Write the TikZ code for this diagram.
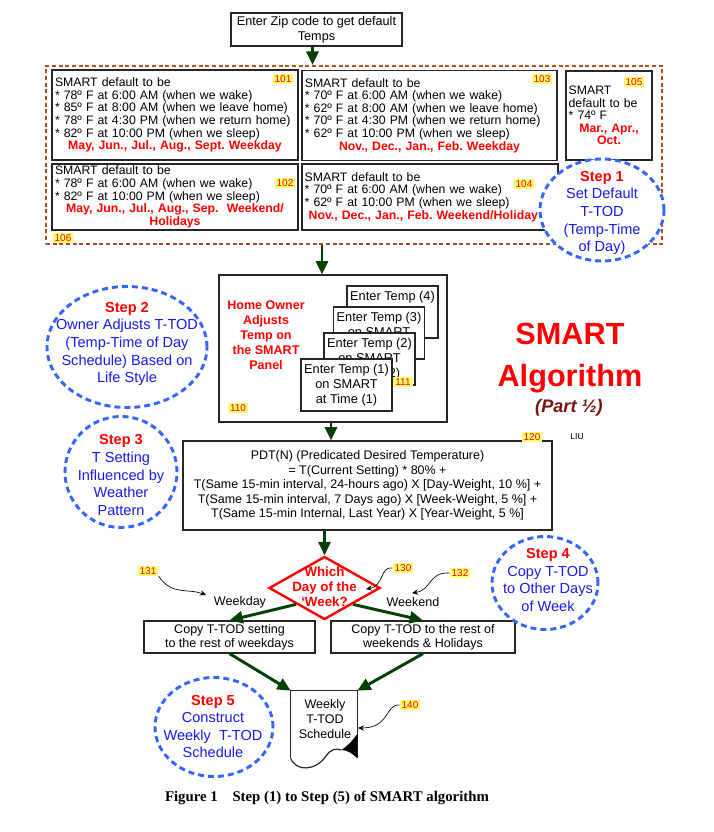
\documentclass[tikz,border=0pt]{standalone}
\usepackage{fontspec}
\setmainfont{Liberation Sans}
\newfontfamily\capfont{Liberation Serif}
\usetikzlibrary{shapes.geometric,arrows.meta}
\definecolor{flowgreen}{RGB}{0,64,0}
\definecolor{ringblue}{RGB}{51,102,255}
\definecolor{stepblue}{RGB}{25,25,235}
\definecolor{grpbrown}{RGB}{176,80,30}
\definecolor{tagyellow}{RGB}{255,255,110}
\definecolor{partred}{RGB}{120,20,20}
\newcommand\txtsz[2]{\fontsize{#1}{#2}\selectfont}
\newcommand\redline[1]{\makebox[\linewidth]{\bfseries\color{red}#1}}
\frenchspacing

\begin{document}
\begin{tikzpicture}[x=0.75pt,y=-0.75pt,
  box/.style={draw=black!85, line width=0.9pt, fill=white, inner xsep=2pt, inner ysep=0pt},
  tag/.style={fill=tagyellow, text=red, font=\fontsize{7.5}{7.5}\selectfont, inner xsep=1.5pt, inner ysep=1pt},
  ring/.style={ellipse, draw=ringblue, line width=2.2pt, dash pattern=on 4.5pt off 3pt, fill=white, inner sep=0pt},
  steptext/.style={align=center, text=stepblue, font=\fontsize{10.9}{13.2}\selectfont},
  flow/.style={draw=flowgreen, line width=2.2pt, -{Triangle[length=10pt,width=9pt]}},
  callout/.style={draw=black, line width=0.5pt, -{Stealth[length=4.5pt,width=4pt]}}]
\useasboundingbox (0,0) rectangle (714,832);

\node[box, align=center, minimum width=128.25pt, minimum height=24.75pt, font=\txtsz{9.5}{11.25}] (zip) at (316.5,29.5) {Enter Zip code to get default\\Temps};

% default T-TOD group
\node[draw=grpbrown, line width=1.8pt, dash pattern=on 3pt off 2pt, minimum width=462pt, minimum height=133.5pt, inner sep=0pt] (grp) at (354,155) {};
\node[box, align=left, minimum width=184.5pt, minimum height=67.5pt, text width=180pt, font=\txtsz{9.2}{9.45}] (b101) at (175,115) {SMART default to be\\{}* 78º F at 6:00 AM (when we wake)\\{}* 85º F at 8:00 AM (when we leave home)\\{}* 78º F at 4:30 PM (when we return home)\\{}* 82º F at 10:00 PM (when we sleep)\\\redline{May, Jun., Jul., Aug., Sept. Weekday}};
\node[box, align=left, minimum width=191.25pt, minimum height=67.5pt, text width=187pt, font=\txtsz{9.2}{9.45}] (b103) at (429.5,115.5) {SMART default to be\\{}* 70º F at 6:00 AM (when we wake)\\{}* 62º F at 8:00 AM (when we leave home)\\{}* 70º F at 4:30 PM (when we return home)\\{}* 62º F at 10:00 PM (when we sleep)\\\redline{Nov., Dec., Jan., Feb. Weekday}};
\node[box, align=left, minimum width=64.5pt, minimum height=66.75pt, text width=60.5pt, font=\txtsz{9.2}{9.45}] (b105) at (609,115.5) {SMART\\default to be\\{}* 74º F\\\redline{Mar., Apr.,}\\\redline{Oct.}};
\node[box, align=left, minimum width=184.5pt, minimum height=49.5pt, text width=180pt, font=\txtsz{9.2}{9.45}] (b102) at (175,197) {SMART default to be\\{}* 78º F at 6:00 AM (when we wake)\\{}* 82º F at 10:00 PM (when we sleep)\\\redline{May, Jun., Jul., Aug., Sep.\ \ Weekend/}\\\redline{Holidays}};
\node[box, align=left, minimum width=192pt, minimum height=49.5pt, text width=188pt, font=\txtsz{9.2}{9.45}] (b104) at (430,197) {SMART default to be\\{}* 70º F at 6:00 AM (when we wake)\\{}* 62º F at 10:00 PM (when we sleep)\\\makebox[\linewidth][l]{\hspace{3pt}\bfseries\color{red}Nov., Dec., Jan., Feb. Weekend/Holiday}};
\node[tag] (t101) at (283,79) {101};
\node[tag] (t102) at (285,183) {102};
\node[tag] (t103) at (542,79) {103};
\node[tag] (t104) at (524,184) {104};
\node[tag] (t105) at (634,82) {105};
\node[tag] (t106) at (63,238) {106};
\node[ring, minimum width=93pt, minimum height=76.5pt] (s1) at (602,210) {};
\node[steptext] (s1t) at (602,213) {{\color{red}\bfseries Step 1}\\Set Default\\T-TOD\\(Temp-Time\\of Day)};

% owner adjusts panel
\node[box, minimum width=171pt, minimum height=110.25pt] (b110) at (333,348.5) {};
\node[text=red, align=center, font=\bfseries\fontsize{9.4}{11.25}\selectfont] (own) at (266,335) {Home Owner\\Adjusts\\Temp on\\the SMART\\Panel};
\node[tag] (t110) at (238,408) {110};
\node[box, align=center, minimum width=68.25pt, minimum height=39pt, font=\txtsz{9.6}{11.25}] (e4) at (392.5,312) {Enter Temp (4)\\on SMART\\at Time (4)};
\node[box, align=center, minimum width=68.25pt, minimum height=39pt, font=\txtsz{9.6}{11.25}] (e3) at (379,333) {Enter Temp (3)\\on SMART\\at Time (3)};
\node[box, align=center, minimum width=68.25pt, minimum height=39pt, font=\txtsz{9.6}{11.25}] (e2) at (369.5,359) {Enter Temp (2)\\on SMART\\at Time (2)};
\node[tag] (t111) at (403,382) {111};
\node[box, align=center, minimum width=68.25pt, minimum height=39pt, font=\txtsz{9.6}{11.25}] (e1) at (346.5,385) {Enter Temp (1)\\on SMART\\at Time (1)};

\node[ring, minimum width=120pt, minimum height=90.75pt] (s2) at (127,347) {};
\node[steptext] (s2t) at (127,344) {{\color{red}\bfseries Step 2}\\Owner Adjusts T-TOD\\(Temp-Time of Day\\Schedule) Based on\\Life Style};

\node[text=red, align=center, font=\bfseries\fontsize{23}{32}\selectfont] (ttl) at (570,358) {SMART\\Algorithm};
\node[text=partred, font=\bfseries\itshape\fontsize{13.6}{15}\selectfont] (part) at (569,408) {(Part ½)};

% predicted desired temperature
\node[box, align=center, minimum width=276.75pt, minimum height=66.75pt, font=\txtsz{9.35}{10.9}] (b120) at (367.5,485.5) {PDT(N) (Predicated Desired Temperature)\\= T(Current Setting) * 80\% +\\T(Same 15-min interval, 24-hours ago) X [Day-Weight, 10 \%] +\\T(Same 15-min interval, 7 Days ago) X [Week-Weight, 5 \%] +\\T(Same 15-min Internal, Last Year) X [Year-Weight, 5 \%]};
\node[tag] (t120) at (532,437) {120};
\node[font=\fontsize{6.5}{7}\selectfont] (liu) at (577,437) {LIU};
\node[ring, minimum width=84pt, minimum height=83.25pt] (s3) at (121,472) {};
\node[steptext] (s3t) at (121,475) {{\color{red}\bfseries Step 3}\\T Setting\\Influenced by\\Weather\\Pattern};

% which day
\node[diamond, draw=red, line width=1.8pt, fill=white, minimum width=83.25pt, minimum height=47.25pt, inner sep=0pt] (dia) at (324.5,588) {};
\node[text=red, align=center, font=\bfseries\fontsize{10}{11.4}\selectfont] (diat) at (324.5,587) {Which\\Day of the\\‘Week?};
\node[font=\txtsz{9.4}{10}] (wd) at (240,602) {Weekday};
\node[font=\txtsz{9.4}{10}] (we) at (413,602) {Weekend};
\node[tag] (t130) at (403,568) {130};
\node[tag] (t131) at (148,571) {131};
\node[tag] (t132) at (460,573) {132};
\coordinate (c130) at (366,589);
\coordinate (c131) at (206,595);
\coordinate (c132) at (412,593);
\draw[callout] (t130.west) .. controls (380,566) and (384,586) .. (c130);
\draw[callout] (t131.south east) .. controls (172,596) and (188,588) .. (c131);
\draw[callout] (t132.west) .. controls (428,572) and (432,590) .. (c132);
\node[box, align=center, minimum width=128.25pt, minimum height=24pt, font=\txtsz{9.4}{10.5}] (wdbox) at (229.5,637) {Copy T-TOD setting\\to the rest of weekdays};
\node[box, align=center, minimum width=138pt, minimum height=24pt, font=\txtsz{9.4}{10.5}] (webox) at (423,637) {Copy T-TOD to the rest of\\weekends \& Holidays};
\node[ring, minimum width=79.5pt, minimum height=69.75pt] (s4) at (545,583) {};
\node[steptext] (s4t) at (548,580) {{\color{red}\bfseries Step 4}\\Copy T-TOD\\to Other Days\\of Week};

% weekly schedule
\node[minimum width=49.5pt, minimum height=50.25pt, inner sep=0pt] (sched) at (324,724.5) {};
\draw[line width=0.9pt, draw=black!85] (sched.south west) -- (sched.north west) -- (sched.north east) -- (sched.south east);
\draw[line width=0.9pt, draw=black!85] (sched.south west) .. controls (296,772) and (316,771) .. (326,756) .. controls (331,749) and (336,748) .. (341,750);
\fill (341,750) .. controls (348,746) and (353,740) .. (sched.east |- 0,734) -- (sched.south east) .. controls (352,753) and (347,750) .. (341,750);
\node[align=center, font=\txtsz{9.4}{11.25}] (schedt) at (325,719) {Weekly\\T-TOD\\Schedule};
\node[tag] (t140) at (410,705) {140};
\coordinate (c140) at (358,728);
\draw[callout] (t140.west) .. controls (385,704) and (390,728) .. (c140);
\node[ring, minimum width=88.5pt, minimum height=74.25pt] (s5) at (214,727) {};
\node[steptext] (s5t) at (213,726.5) {{\color{red}\bfseries Step 5}\\Construct\\Weekly\ \ T-TOD\\Schedule};

% flow arrows
\draw[flow] ([xshift=-3pt]zip.south) -- ([xshift=-3pt]zip.south |- grp.north);
\draw[flow] (grp.south -| 322,0) -- (b110.north -| 322,0);
\draw[flow] (b110.south -| 331,0) -- (b120.north -| 331,0);
\draw[flow] (b120.south -| dia.north) -- (dia.north);
\draw[flow] (dia.south west) -- (wdbox.north);
\draw[flow] (dia.south east) -- (webox.north);
\draw[flow] (wdbox.south) -- (sched.north west);
\draw[flow] (webox.south) -- (sched.north east);

\node[font=\capfont\bfseries\fontsize{11.1}{12}\selectfont] (cap) at (327,798) {Figure 1\hspace{11pt}Step (1) to Step (5) of SMART algorithm};
\end{tikzpicture}
\end{document}
